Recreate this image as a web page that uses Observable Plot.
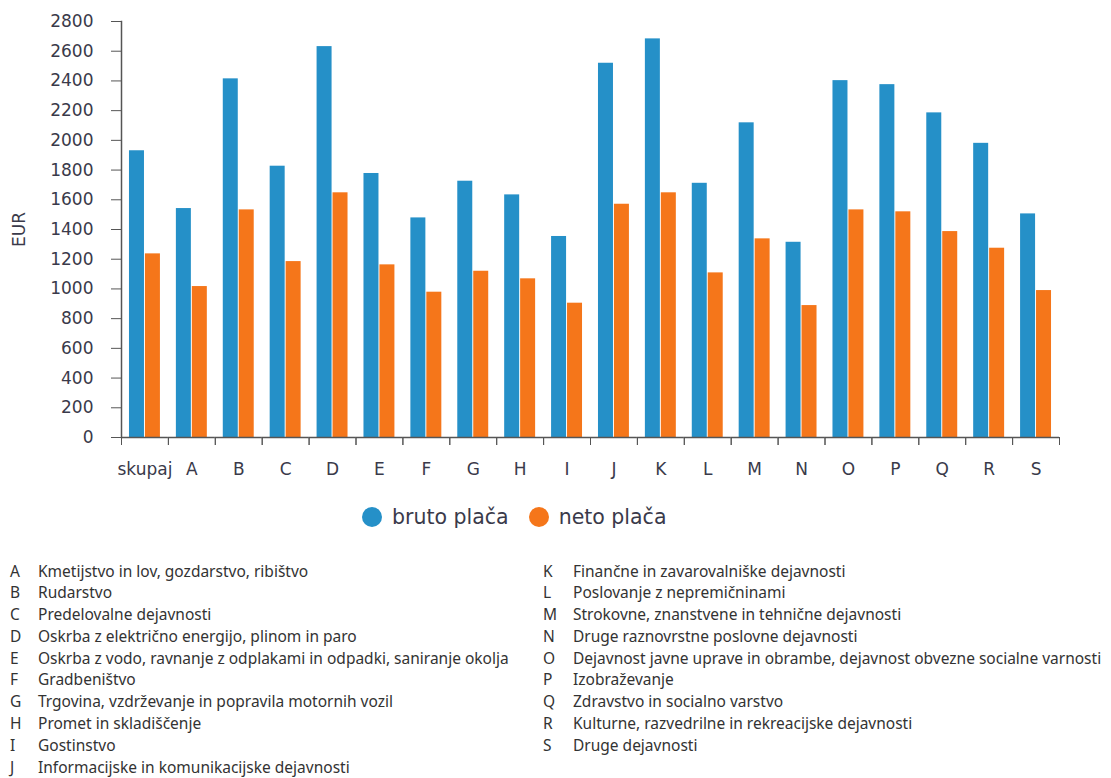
<!DOCTYPE html>
<html><head><meta charset="utf-8">
<script src="https://cdn.jsdelivr.net/npm/d3@7"></script>
<script src="https://cdn.jsdelivr.net/npm/@observablehq/plot@0.6"></script>
<style>
body{margin:0;background:#fff;font-family:"DejaVu Sans",sans-serif;width:1111px;height:778px;overflow:hidden;}
#legend{height:54px;display:flex;align-items:center;padding-left:362px;font-family:"DejaVu Sans",sans-serif;font-size:20.5px;color:#3a3a4a;}
#legend .sw{width:20px;height:20px;border-radius:50%;display:inline-block;margin-right:10px;}
#legend .it{display:flex;align-items:center;margin-right:20px;}
#notes{position:relative;margin-top:16.5px;height:220px;font-family:"Noto Sans",sans-serif;font-size:15.5px;color:#333;}
.col{position:absolute;top:0;}
.row{height:21.8px;line-height:21.8px;display:flex;white-space:nowrap;}
.row .k{display:inline-block;}
</style></head><body>
<div id="chart"></div>
<div id="legend"></div>
<div id="notes"></div>
<script>
const categories = ["skupaj","A","B","C","D","E","F","G","H","I","J","K","L","M","N","O","P","Q","R","S"];
const bruto = [1930,1541,2414,1826,2631,1777,1478,1725,1633,1353,2519,2683,1711,2118,1314,2402,2375,2185,1980,1505];
const neto  = [1236,1016,1532,1184,1647,1162,978,1119,1068,904,1570,1647,1108,1337,888,1532,1519,1386,1274,989];
const seriesNames = ["bruto plača","neto plača"];
const seriesColors = ["#2590C8","#F5761A"];
const yTicks = d3.range(0, 2801, 200);
const notesLeft = [
 ["A","Kmetijstvo in lov, gozdarstvo, ribištvo"],
 ["B","Rudarstvo"],
 ["C","Predelovalne dejavnosti"],
 ["D","Oskrba z električno energijo, plinom in paro"],
 ["E","Oskrba z vodo, ravnanje z odplakami in odpadki, saniranje okolja"],
 ["F","Gradbeništvo"],
 ["G","Trgovina, vzdrževanje in popravila motornih vozil"],
 ["H","Promet in skladiščenje"],
 ["I","Gostinstvo"],
 ["J","Informacijske in komunikacijske dejavnosti"]
];
const notesRight = [
 ["K","Finančne in zavarovalniške dejavnosti"],
 ["L","Poslovanje z nepremičninami"],
 ["M","Strokovne, znanstvene in tehnične dejavnosti"],
 ["N","Druge raznovrstne poslovne dejavnosti"],
 ["O","Dejavnost javne uprave in obrambe, dejavnost obvezne socialne varnosti"],
 ["P","Izobraževanje"],
 ["Q","Zdravstvo in socialno varstvo"],
 ["R","Kulturne, razvedrilne in rekreacijske dejavnosti"],
 ["S","Druge dejavnosti"]
];

const data = categories.flatMap((c, i) => [
  {cat: c, series: seriesNames[0], value: bruto[i]},
  {cat: c, series: seriesNames[1], value: neto[i]}
]);

const W = 1111, H = 490, ml = 121, mr = 52;
const bw = (W - ml - mr) / categories.length;
const axisColor = "#555";

const plot = Plot.plot({
  width: W, height: H, marginLeft: ml, marginRight: mr, marginTop: 21, marginBottom: 53,
  style: {fontFamily: "'DejaVu Sans', sans-serif", fontSize: "17px", color: "#3a3a4a", background: "#fff", overflow: "visible"},
  fx: {domain: categories, padding: 0, round: false},
  x: {domain: seriesNames, paddingInner: 0.06, paddingOuter: 0.5, round: false, axis: null},
  y: {domain: [0, 2800]},
  color: {domain: seriesNames, range: seriesColors},
  marks: [
    Plot.barY(data, {fx: "cat", x: "series", y: "value", fill: "series"}),
    Plot.ruleY([0], {stroke: axisColor, strokeWidth: 1.5}),
    Plot.frame({anchor: "left", facetAnchor: "left", stroke: axisColor, strokeWidth: 1.5}),
    Plot.axisY({ticks: yTicks, tickFormat: d => String(d), tickSize: 10, tickPadding: 18, label: "EUR", labelAnchor: "center", labelArrow: "none", labelOffset: 109, stroke: axisColor, fontSize: 17}),
    Plot.axisFx({anchor: "bottom", tickSize: 0, tickPadding: 25, label: null, fontSize: 17}),
    Plot.axisFx({anchor: "bottom", text: null, tickSize: 8, dx: -bw / 2, label: null, stroke: axisColor}),
    Plot.axisFx({anchor: "bottom", text: null, tickSize: 8, dx: bw / 2, label: null, stroke: axisColor})
  ]
});
document.getElementById("chart").appendChild(plot);

const legend = document.getElementById("legend");
seriesNames.forEach((s, i) => {
  const it = document.createElement("span");
  it.className = "it";
  const sw = document.createElement("span");
  sw.className = "sw";
  sw.style.background = seriesColors[i];
  it.appendChild(sw);
  it.appendChild(document.createTextNode(s));
  legend.appendChild(it);
});

const notes = document.getElementById("notes");
function addCol(list, left, keyW) {
  const col = document.createElement("div");
  col.className = "col";
  col.style.left = left + "px";
  list.forEach(([k, t]) => {
    const r = document.createElement("div");
    r.className = "row";
    const ks = document.createElement("span");
    ks.className = "k";
    ks.style.width = keyW + "px";
    ks.textContent = k;
    r.appendChild(ks);
    r.appendChild(document.createTextNode(t));
    col.appendChild(r);
  });
  notes.appendChild(col);
}
addCol(notesLeft, 10, 28);
addCol(notesRight, 543, 30);
</script>
</body></html>
